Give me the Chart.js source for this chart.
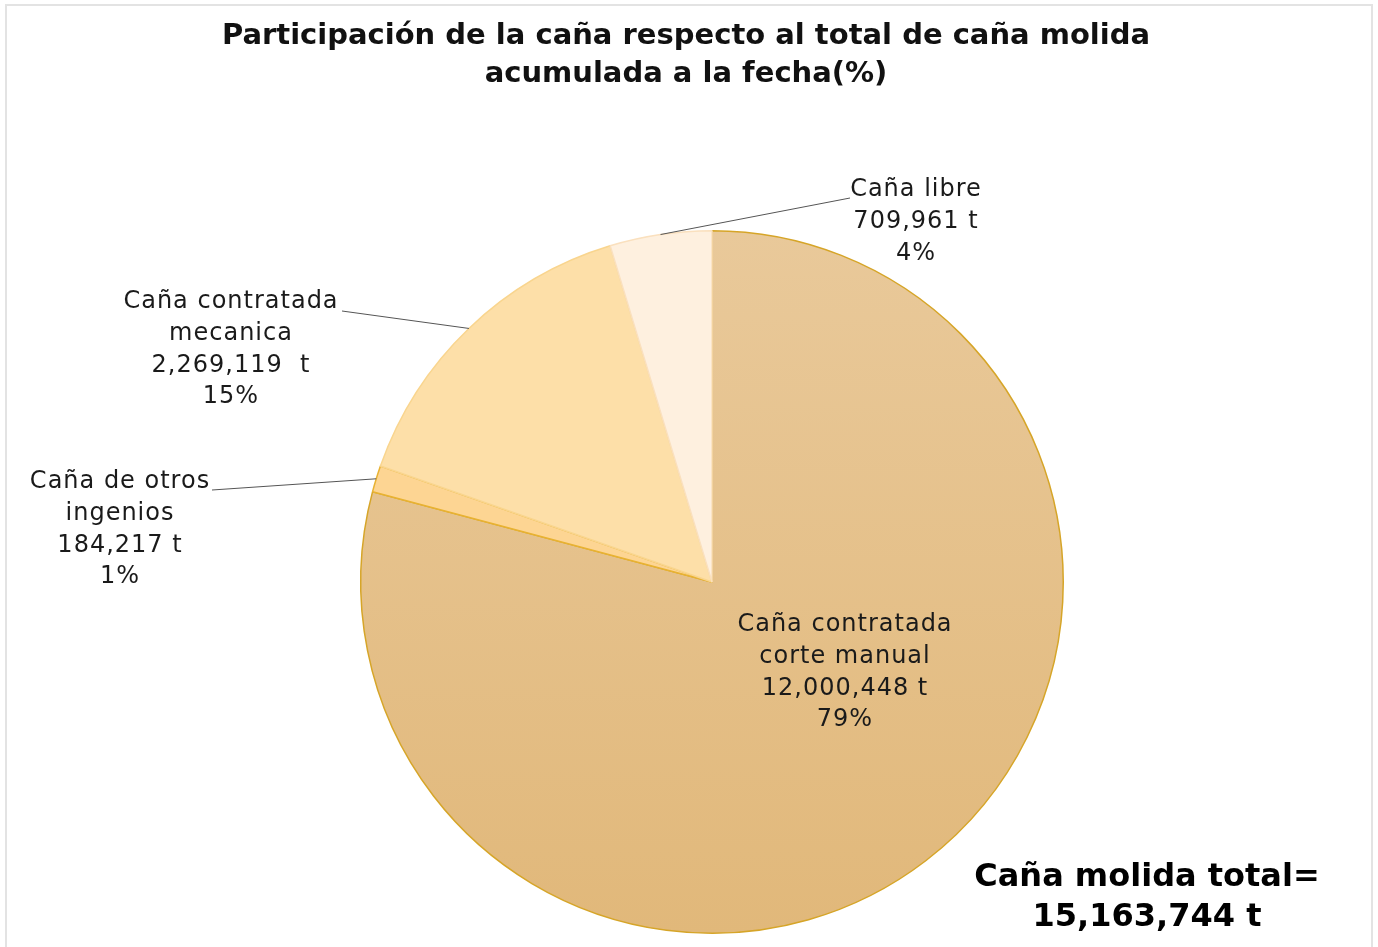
<!DOCTYPE html>
<html>
<head>
<meta charset="utf-8">
<script src="https://cdn.jsdelivr.net/npm/chart.js@4"></script>
<style>
  html, body { margin: 0; padding: 0; background: #fff; }
  #wrap { position: relative; width: 1378px; height: 947px; }
  #frame { position: absolute; left: 5px; top: 4px; width: 1368px; height: 950px;
           border: 2px solid #e3e3e3; box-sizing: border-box; }
  canvas { position: absolute; left: 0; top: 0; }
</style>
</head>
<body>
<div id="wrap">
  <div id="frame"></div>
  <canvas id="myChart" width="1378" height="947"></canvas>
</div>
<script>
// data
const categories = ["Caña contratada corte manual", "Caña de otros ingenios", "Caña contratada mecanica", "Caña libre"];
const tonnes = [12000448, 184217, 2269119, 709961];
const percents = ["79%", "1%", "15%", "4%"];
const labelLines = [
    ["Caña contratada", "corte manual", "12,000,448 t", "79%"],
    ["Caña de otros", "ingenios", "184,217 t", "1%"],
    ["Caña contratada", "mecanica", "2,269,119  t", "15%"],
    ["Caña libre", "709,961 t", "4%"]
];
const titleLines = ["Participación de la caña respecto al total de caña molida", "acumulada a la fecha(%)"];
const totalLines = ["Caña molida total=", "15,163,744 t"];

const fillColors = [null, "#FDD593", "#FDDFA8", "#FEF0DF"];
const borderColors = ["#D6A528", "#E8B232", "#F9D58E", "#FAE0BE"];

const FONT = "'DejaVu Sans', sans-serif";

document.addEventListener("DOMContentLoaded", function () {

    const ctx = document.getElementById("myChart");

    const labelPos = [
        { inside: true, x: 845, y: 625 },
        { x: 120, y: 482, lineTo: [212, 490] },
        { x: 231, y: 302, lineTo: [342, 311] },
        { x: 916, y: 190, lineTo: [850, 198] }
    ];

    const textPlugin = {
        id: "textPlugin",
        afterDatasetsDraw(chart) {
            const c = chart.ctx;
            const meta = chart.getDatasetMeta(0);
            c.save();
            c.fillStyle = "#111";
            c.textAlign = "center";
            c.textBaseline = "middle";

            // title
            c.font = "bold 29px " + FONT;
            c.fillText(titleLines[0], 686, 36);
            c.fillText(titleLines[1], 686, 74);

            // slice labels with leader lines
            meta.data.forEach(function (arc, i) {
                const p = labelPos[i];
                if (!p.inside) {
                    const mid = (arc.startAngle + arc.endAngle) / 2;
                    const ax = arc.x + Math.cos(mid) * arc.outerRadius;
                    const ay = arc.y + Math.sin(mid) * arc.outerRadius;
                    c.strokeStyle = "#555";
                    c.lineWidth = 1;
                    c.beginPath();
                    c.moveTo(ax, ay);
                    c.lineTo(p.lineTo[0], p.lineTo[1]);
                    c.stroke();
                }
                c.font = "24px " + FONT;
                c.letterSpacing = "1px";
                c.fillStyle = "#1a1a1a";
                labelLines[i].forEach(function (t, k) {
                    c.fillText(t, p.x, p.y + k * 31.7);
                });
                c.letterSpacing = "0px";
            });

            // total
            c.font = "bold 32px " + FONT;
            c.fillStyle = "#000";
            c.fillText(totalLines[0], 1147, 878);
            c.fillText(totalLines[1], 1147, 918);
            c.restore();
        }
    };

    new Chart(ctx, {
        type: "pie",
        data: {
            labels: categories,
            datasets: [{
                data: tonnes,
                backgroundColor: function (context) {
                    const i = context.dataIndex;
                    if (i !== 0) return fillColors[i];
                    const area = context.chart.chartArea;
                    if (!area) return "#E5C08A";
                    const g = context.chart.ctx.createLinearGradient(0, area.top, 0, area.bottom);
                    g.addColorStop(0, "#E9C99A");
                    g.addColorStop(1, "#E1B87A");
                    return g;
                },
                borderColor: borderColors,
                borderWidth: 1.5
            }]
        },
        options: {
            responsive: false,
            animation: false,
            layout: {
                padding: { top: 230, bottom: 13, left: 360, right: 314 }
            },
            plugins: {
                legend: { display: false },
                title: { display: false },
                tooltip: { enabled: false }
            }
        },
        plugins: [textPlugin]
    });

});
</script>
</body>
</html>
